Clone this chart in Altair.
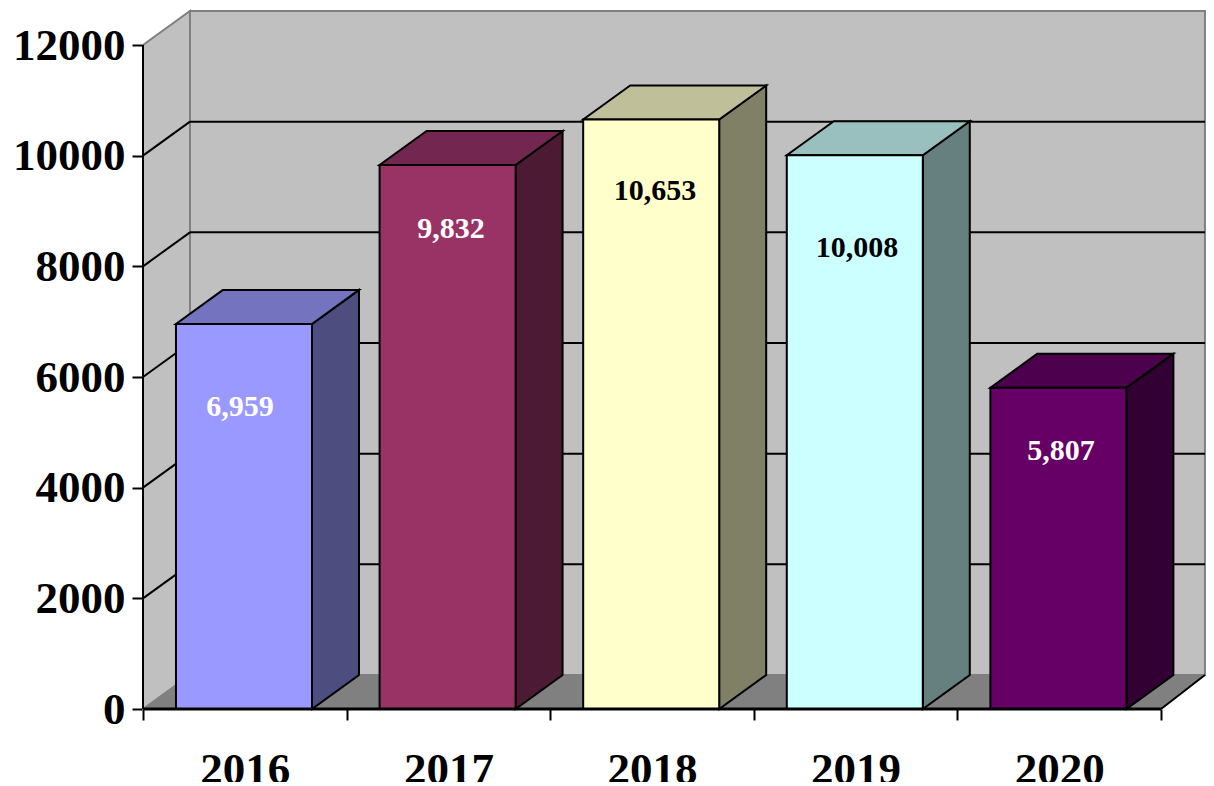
import altair as alt
import pandas as pd

years = ["2016", "2017", "2018", "2019", "2020"]
values = [6959, 9832, 10653, 10008, 5807]
front_colors = ["#9999ff", "#993366", "#ffffcc", "#ccffff", "#660066"]
side_colors = ["#4d4d80", "#4d1a33", "#808066", "#668080", "#330033"]
top_colors = ["#7373bf", "#732650", "#bfbf99", "#99bfbf", "#4d004d"]
label_colors = ["white", "white", "black", "black", "white"]
label_x = [0.476, 1.513, 2.515, 3.507, 4.509]
label_y = [5458, 8675, 9362, 8331, 4663]
y_ticks = [0, 2000, 4000, 6000, 8000, 10000, 12000]

n = len(years)
depth_x = 0.2308
depth_y = 614.5
wall_right = n + depth_x - 0.015
bar_left = 0.162
bar_right = 0.830
y_top = 12000
FONT = "Liberation Serif"

xs = alt.Scale(domain=[0, n + depth_x], range=[0, 1065], nice=False, zero=False)
ys = alt.Scale(domain=[0, y_top + depth_y], range=[698, 0], nice=False, zero=False)


def X(field="x", **kw):
    return alt.X(f"{field}:Q", scale=xs, axis=None, title=None, **kw)


def Y(field="y", **kw):
    return alt.Y(f"{field}:Q", scale=ys, axis=None, title=None, **kw)


X2 = lambda f="x2": alt.X2(f"{f}:Q")
Y2 = lambda f="y2": alt.Y2(f"{f}:Q")

# walls and floor
side_wall = alt.Chart(pd.DataFrame({
    "x": [0, depth_x], "y": [0, depth_y],
    "y2": [y_top, y_top + depth_y]})).mark_area(
    fill="#c0c0c0", stroke="#808080", strokeWidth=2, interpolate="linear"
).encode(x=X(), y=Y(), y2=Y2())

back_wall = alt.Chart(pd.DataFrame({
    "x": [depth_x], "x2": [wall_right], "y": [depth_y], "y2": [y_top + depth_y]})).mark_rect(
    fill="#c0c0c0", stroke="#808080", strokeWidth=2
).encode(x=X(), x2=X2(), y=Y(), y2=Y2())

floor = alt.Chart(pd.DataFrame({
    "y": [0, depth_y], "x": [0, depth_x], "x2": [n, wall_right]})).mark_area(
    orient="horizontal", fill="#808080", stroke="#808080", strokeWidth=1
).encode(y=Y(), x=X(), x2=X2())

grid_vals = [v for v in y_ticks if 0 < v < y_top]
grid_back = alt.Chart(pd.DataFrame({
    "x": [depth_x] * len(grid_vals), "x2": [wall_right] * len(grid_vals),
    "y": [v + depth_y for v in grid_vals]})).mark_rule(
    color="black", strokeWidth=2
).encode(x=X(), x2=X2(), y=Y())

grid_rows = []
for v in grid_vals:
    grid_rows += [{"v": v, "x": 0, "y": v}, {"v": v, "x": depth_x, "y": v + depth_y}]
grid_side = alt.Chart(pd.DataFrame(grid_rows)).mark_line(
    color="black", strokeWidth=2
).encode(x=X(), y=Y(), detail="v:N")

floor_edge = alt.Chart(pd.DataFrame({
    "x": [n, wall_right], "y": [0, depth_y]})).mark_line(
    color="black", strokeWidth=2
).encode(x=X(), y=Y())

# bars
front_df = pd.DataFrame({
    "x": [i + bar_left for i in range(n)], "x2": [i + bar_right for i in range(n)],
    "y": [0] * n, "y2": values, "c": front_colors})
side_rows, top_rows = [], []
for i, v in enumerate(values):
    r = i + bar_right
    l = i + bar_left
    side_rows += [
        {"b": i, "x": r, "y": v, "y2": 0, "c": side_colors[i]},
        {"b": i, "x": r + depth_x, "y": v + depth_y, "y2": depth_y, "c": side_colors[i]},
    ]
    top_rows += [
        {"b": i, "y": v, "x": l, "x2": r, "c": top_colors[i]},
        {"b": i, "y": v + depth_y, "x": l + depth_x, "x2": r + depth_x, "c": top_colors[i]},
    ]
no_scale = alt.Color("c:N", scale=None, legend=None)
bar_side = alt.Chart(pd.DataFrame(side_rows)).mark_area(
    stroke="black", strokeWidth=2
).encode(x=X(), y=Y(), y2=Y2(), detail="b:N", color=no_scale)
bar_top = alt.Chart(pd.DataFrame(top_rows)).mark_area(
    orient="horizontal", stroke="black", strokeWidth=2
).encode(y=Y(), x=X(), x2=X2(), detail="b:N", color=no_scale)
bar_front = alt.Chart(front_df).mark_rect(
    stroke="black", strokeWidth=2
).encode(x=X(), x2=X2(), y=Y(), y2=Y2(), color=no_scale)

labels = alt.Chart(pd.DataFrame({
    "x": label_x, "y": label_y, "t": [f"{v:,}" for v in values], "c": label_colors})).mark_text(
    font=FONT, fontWeight="bold", fontSize=30, baseline="middle", align="center"
).encode(x=X(), y=Y(), text="t:N", color=no_scale)

# axis lines
axis_y_line = alt.Chart(pd.DataFrame({"x": [0], "y": [0], "y2": [y_top]})).mark_rule(
    color="black", strokeWidth=2
).encode(x=X(), y=Y(), y2=Y2())
axis_x_line = alt.Chart(pd.DataFrame({"x": [0], "x2": [n], "y": [0]})).mark_rule(
    color="black", strokeWidth=3
).encode(x=X(), x2=X2(), y=Y())

# real axes
axis_ticks = alt.Chart(pd.DataFrame({"x": [0], "y": [0]})).mark_point(opacity=0).encode(
    x=alt.X("x:Q", scale=xs, title=None, axis=alt.Axis(
        orient="bottom", values=list(range(n + 1)), labels=False, grid=False, domain=False,
        tickSize=11, tickWidth=2, tickColor="black")),
    y=alt.Y("y:Q", scale=ys, title=None, axis=alt.Axis(
        orient="left", values=y_ticks, grid=False, domain=False, format="d",
        tickSize=11, tickWidth=2, tickColor="black", labelPadding=7,
        labelFont=FONT, labelFontWeight="bold", labelFontSize=45, labelColor="black",
        labelBaseline="middle", labelOverlap=False, labelBound=False, labelFlush=False)),
)
year_array = "[" + ",".join(f"'{y}'" for y in years) + "]"
axis_years = alt.Chart(pd.DataFrame({"x": [0], "y": [0]})).mark_point(opacity=0).encode(
    x=alt.X("x:Q", scale=xs, title=None, axis=alt.Axis(
        orient="bottom", values=[i + 0.5 for i in range(n)], ticks=False, grid=False, domain=False,
        labelExpr=f"{year_array}[floor(datum.value)]", labelPadding=38,
        labelFont=FONT, labelFontWeight="bold", labelFontSize=45, labelColor="black",
        labelOverlap=False, labelBound=False, labelFlush=False)),
    y=Y(),
)

chart = alt.layer(
    back_wall, side_wall, floor, grid_back, grid_side, floor_edge,
    bar_side, bar_top, bar_front, labels, axis_y_line, axis_x_line,
    axis_ticks, axis_years,
).resolve_axis(x="independent", y="independent").properties(
    width=1063, height=698,
    autosize=alt.AutoSizeParams(type="none"),
    padding={"left": 135, "top": 3, "right": 0, "bottom": 73},
    background="white",
).configure_view(strokeWidth=0)

chart.save("out.html", embed_options={"renderer": "svg", "actions": False})
